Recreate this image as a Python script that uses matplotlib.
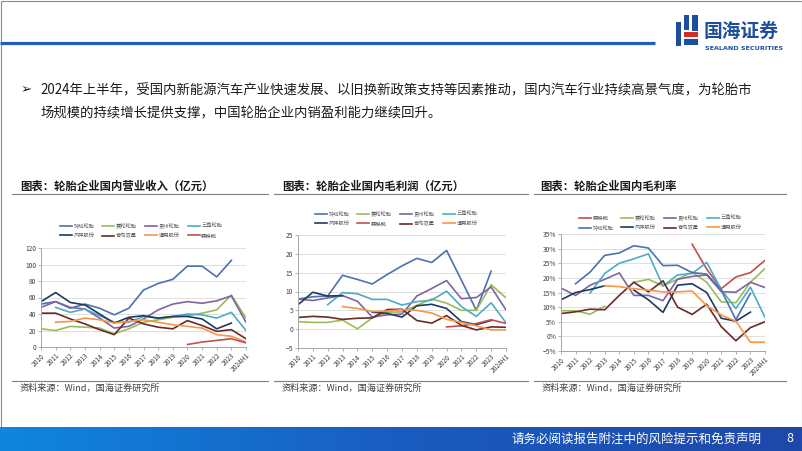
import numpy as np
import matplotlib
matplotlib.use('Agg')
import matplotlib.pyplot as plt
from matplotlib.patches import Rectangle
from matplotlib.ticker import PercentFormatter
from matplotlib.colors import LinearSegmentedColormap

plt.rcParams['font.family'] = ['Noto Sans CJK SC', 'DejaVu Sans']

nan = np.nan
years = ['2010', '2011', '2012', '2013', '2014', '2015', '2016', '2017',
         '2018', '2019', '2020', '2021', '2022', '2023', '2024H1']

# 营业收入（亿元）
rev_linglong = [52, 55, 47, 52, 47, 39, 47, 69, 77, 82, 98, 98, 85, 105, nan]
rev_sailun = [22, 20, 25, 24, 23, 16, 22, 30, 33, 36, 38, 41, 45, 63, 35]
rev_guizhou = [48, 55, 48, 46, 35, 23, 25, 34, 45, 52, 55, 53, 56, 62, 30]
rev_sanjiao = [nan, 48, 42, 46, 38, 30, 30, 37, 35, 37, 40, 39, 35, 42, 20]
rev_fengshen = [55, 66, 54, 51, 40, 29, 36, 38, 35, 37, 37, 34, 22, 29, nan]
rev_shuangxing = [41, 41, 34, 28, 21, 15, 35, 28, 24, 22, 32, 26, 19, 21, 10]
rev_tongyong = [nan, 30, 31, 35, 33, 29, 31, 33, 30, 27, 25, 23, 15, 13, 6]
rev_senqilin = [nan, nan, nan, nan, nan, nan, nan, nan, nan, nan, 3, 6, 8, 10, 5]

# 毛利润（亿元）
gp_linglong = [8.0, 8.6, 8.8, 14.3, 13.2, 12.0, 14.5, 16.8, 18.8, 17.7, 20.9, 13.0, 5.0, 15.4, nan]
gp_sailun = [2.0, 1.8, 1.8, 2.4, 0.1, 3.0, 4.5, 4.6, 6.3, 8.0, 6.9, 5.0, 5.0, 11.8, 8.3]
gp_guizhou = [8.0, 7.6, 8.3, 8.9, 7.4, 3.2, 3.8, 4.0, 8.8, 10.8, 12.9, 8.1, 8.4, 11.2, 5.1]
gp_sanjiao = [nan, nan, 6.5, 9.7, 9.4, 7.9, 7.9, 6.4, 7.3, 7.7, 10.1, 6.0, 3.4, 7.0, 1.7]
gp_fengshen = [6.5, 9.8, 8.8, 8.9, nan, 4.5, 4.2, 3.2, 6.2, 6.6, 5.5, 2.0, 1.2, 2.3, nan]
gp_senqilin = [nan, nan, nan, nan, nan, nan, nan, nan, nan, nan, 0.6, 0.9, 1.5, 2.5, 1.5]
gp_shuangxing = [3.1, 3.4, 3.2, 2.6, 2.9, 3.0, 5.2, 5.3, 2.3, 1.6, 3.6, 1.0, -0.2, 0.6, 0.5]
gp_tongyong = [nan, nan, nan, 6.0, 5.5, 4.7, 4.8, 5.2, 5.0, 4.3, 2.6, 1.8, 0.9, -0.2, -0.2]

# 毛利率（%）
gm_senqilin = [nan, nan, nan, nan, nan, nan, nan, nan, nan, 31.5, 23.0, 16.3, 20.3, 21.8, 26.0]
gm_sailun = [8.8, 8.7, 7.6, 10.3, nan, 18.5, 19.5, 17.3, 19.5, 22.0, 18.5, 11.8, 11.5, 18.5, 23.2]
gm_guizhou = [16.5, 14.0, 17.5, 19.5, 21.7, 14.0, 14.0, 12.2, 19.5, 20.5, 21.0, 15.3, 15.1, 18.5, 16.7]
gm_sanjiao = [nan, nan, 14.8, 21.5, 25.0, 26.5, 28.2, 17.2, 21.0, 21.5, 25.3, 16.0, 9.5, 16.8, 6.5]
gm_linglong = [nan, 18.0, 22.0, 27.7, 28.5, 31.0, 30.2, 24.2, 24.3, 21.8, 21.3, 15.8, 5.7, 14.7, nan]
gm_fengshen = [12.5, 15.0, 16.0, 17.3, nan, 15.8, 12.5, 8.2, 17.5, 18.0, 15.0, 6.2, 5.2, 8.3, nan]
gm_shuangxing = [7.8, 8.4, 9.3, 9.1, 14.0, 18.5, 15.2, 19.0, 10.0, 7.5, 11.0, 3.3, -1.5, 3.0, 5.0]
gm_tongyong = [nan, nan, nan, 17.3, 17.0, 16.3, 15.8, 15.2, 15.2, 15.5, 10.5, 7.3, 5.2, -2.0, -2.0]

colors = {
    '玲珑轮胎': '#4a72b0', '赛轮轮胎': '#9bbb59', '贵州轮胎': '#8064a2',
    '三角轮胎': '#4bacc6', '风神股份': '#1f3a60', '青岛双星': '#6b2a2a',
    '通用股份': '#f79646', '森麒麟': '#c0504d',
}

W, H = 802, 451
fig = plt.figure(figsize=(W / 100, H / 100), dpi=100)
fig.patch.set_facecolor('white')

# background layer in pixel coords
bg = fig.add_axes([0, 0, 1, 1], zorder=0)
bg.set_xlim(0, W)
bg.set_ylim(H, 0)
bg.axis('off')

bg.add_patch(Rectangle((0.5, 0.5), W - 1, H - 1, fill=False, ec='#8c8c8c', lw=0.8))
bg.plot([0, 655], [42.5, 42.5], color='#1e5cc6', lw=2.3, solid_capstyle='butt')

# logo
bg.add_patch(Rectangle((676, 22), 5, 24, color='#1d4e9e', lw=0))
bg.add_patch(Rectangle((684, 15), 5, 15, color='#1d4e9e', lw=0))
bg.add_patch(Rectangle((692, 15), 6, 16, color='#1d4e9e', lw=0))
bg.add_patch(Rectangle((684, 32), 14, 5, color='#d42a2a', lw=0))
bg.add_patch(Rectangle((684, 39), 14, 6, color='#1d4e9e', lw=0))
bg.text(704, 31, '国海证券', fontsize=13.5, fontweight='bold', color='#1d4e9e', va='center', ha='left')
bg.text(705, 48.5, 'SEALAND SECURITIES', fontsize=4.6, fontweight='bold', color='#1d4e9e',
        va='center', ha='left', family=['DejaVu Sans'])

# bullet text
bg.text(21, 90, '➢', fontsize=9.5, color='#222222', va='center', ha='left', family=['DejaVu Sans'])
bg.text(40, 90, '2024年上半年，受国内新能源汽车产业快速发展、以旧换新政策支持等因素推动，国内汽车行业持续高景气度，为轮胎市',
        fontsize=9.6, color='#1a1a1a', va='center', ha='left')
bg.text(40, 113, '场规模的持续增长提供支撑，中国轮胎企业内销盈利能力继续回升。',
        fontsize=9.6, color='#1a1a1a', va='center', ha='left')

# panel titles, separators, sources
titles = ['图表：轮胎企业国内营业收入（亿元）', '图表：轮胎企业国内毛利润（亿元）', '图表：轮胎企业国内毛利率']
title_x = [20, 282, 540]
seg = [(12, 268), (274, 528), (534, 786)]
for t, tx, (x0, x1) in zip(titles, title_x, seg):
    bg.text(tx, 186.5, t, fontsize=8.2, fontweight='bold', color='#1a1a1a', va='center', ha='left')
    bg.plot([x0, x1], [193.5, 193.5], color='#7f7f7f', lw=0.8)
    bg.plot([x0, x1], [381, 381], color='#7f7f7f', lw=0.8)
    bg.text(x0 + 8, 388.5, '资料来源：Wind，国海证券研究所', fontsize=6.6, color='#404040',
            va='center', ha='left')

# footer bar
grad = np.linspace(0, 1, 256).reshape(1, -1)
cmap = LinearSegmentedColormap.from_list('bar', ['#0f86de', '#1a5cc0', '#1f48a8'])
bg.imshow(grad, extent=[0, W, H, 427], cmap=cmap, aspect='auto', zorder=1)
bg.set_xlim(0, W)
bg.set_ylim(H, 0)
bg.text(762, 439, '请务必阅读报告附注中的风险提示和免责声明', fontsize=9, color='white',
        va='center', ha='right', zorder=2)
bg.text(790, 439, '8', fontsize=9, color='white', va='center', ha='center', zorder=2)


def make_ax(left, right, top, bottom):
    return fig.add_axes([left / W, 1 - bottom / H, (right - left) / W, (bottom - top) / H], zorder=2)


def style(ax, ylim, yticks):
    x = np.arange(len(years))
    ax.set_xlim(0, len(years) - 1)
    ax.set_ylim(*ylim)
    ax.set_yticks(yticks)
    ax.set_xticks(x)
    ax.set_xticklabels(years, rotation=45, ha='right', rotation_mode='anchor')
    ax.patch.set_alpha(0)
    ax.grid(axis='y', color='#d9d9d9', lw=0.6)
    ax.set_axisbelow(True)
    for s in ['top', 'right']:
        ax.spines[s].set_visible(False)
    for s in ['left', 'bottom']:
        ax.spines[s].set_color('#a6a6a6')
        ax.spines[s].set_linewidth(0.7)
    ax.tick_params(axis='both', labelsize=4.8, labelcolor='#404040', color='#a6a6a6',
                   length=2, width=0.6, pad=1.5)


def draw(ax, series, legend_xy):
    x = np.arange(len(years))
    handles = []
    for name, vals in series:
        ln, = ax.plot(x, np.array(vals, dtype=float), color=colors[name], lw=1.2, label=name)
        handles.append(ln)
    order = [0, 4, 1, 5, 2, 6, 3, 7]
    h = [handles[i] for i in order]
    lab = [series[i][0] for i in order]
    fig.legend(h, lab, loc='center', bbox_to_anchor=(legend_xy[0] / W, 1 - legend_xy[1] / H),
               ncol=4, fontsize=3.8, frameon=False, handlelength=2.3, handletextpad=0.3,
               columnspacing=1.5, labelspacing=0.75, labelcolor='#595959')


ax1 = make_ax(41, 246, 248, 347)
style(ax1, (0, 120), np.arange(0, 121, 20))
draw(ax1, [('玲珑轮胎', rev_linglong), ('赛轮轮胎', rev_sailun), ('贵州轮胎', rev_guizhou),
           ('三角轮胎', rev_sanjiao), ('风神股份', rev_fengshen), ('青岛双星', rev_shuangxing),
           ('通用股份', rev_tongyong), ('森麒麟', rev_senqilin)], (141, 231))

ax2 = make_ax(298, 506, 235, 348)
style(ax2, (-5, 25), np.arange(-5, 26, 5))
draw(ax2, [('玲珑轮胎', gp_linglong), ('赛轮轮胎', gp_sailun), ('贵州轮胎', gp_guizhou),
           ('三角轮胎', gp_sanjiao), ('风神股份', gp_fengshen), ('森麒麟', gp_senqilin),
           ('青岛双星', gp_shuangxing), ('通用股份', gp_tongyong)], (396, 219))

ax3 = make_ax(561, 765, 234, 351)
style(ax3, (-5, 35), np.arange(-5, 36, 5))
ax3.yaxis.set_major_formatter(PercentFormatter(100, decimals=0))
draw(ax3, [('森麒麟', gm_senqilin), ('赛轮轮胎', gm_sailun), ('贵州轮胎', gm_guizhou),
           ('三角轮胎', gm_sanjiao), ('玲珑轮胎', gm_linglong), ('风神股份', gm_fengshen),
           ('青岛双星', gm_shuangxing), ('通用股份', gm_tongyong)], (660, 223))

fig.savefig('out.png', dpi=100)
